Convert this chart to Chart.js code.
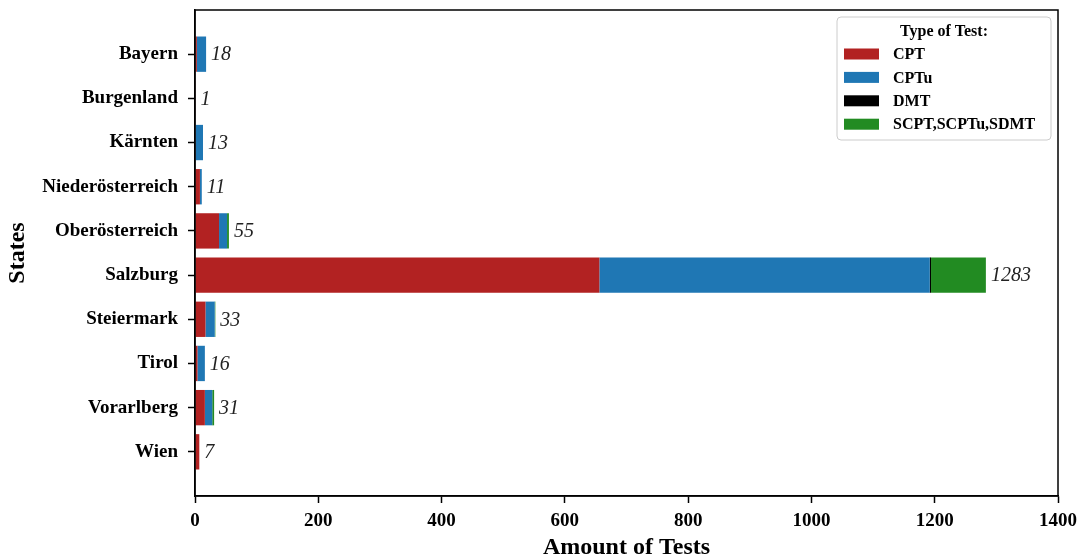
<!DOCTYPE html>
<html>
<head>
<meta charset="utf-8">
<title>Tests per State</title>
<script src="https://cdn.jsdelivr.net/npm/chart.js@4/dist/chart.umd.min.js"></script>
<style>
    body { margin: 0; background: #fff; overflow: hidden; }
    canvas { display: block; }
</style>
</head>
<body>
<canvas id="grafica" width="1083" height="560"></canvas>
<script>
// states, top to bottom
const estados = ['Bayern', 'Burgenland', 'Kärnten', 'Niederösterreich', 'Oberösterreich',
                 'Salzburg', 'Steiermark', 'Tirol', 'Vorarlberg', 'Wien'];

// amount of tests per type
const cpt  = [3, 1, 1, 8, 39, 656, 17, 4, 16, 7];
const cptu = [15, 0, 12, 3, 13, 536, 15, 12, 12, 0];
const dmt  = [0, 0, 0, 0, 0, 2, 0, 0, 0, 0];
const scpt = [0, 0, 0, 0, 3, 89, 1, 0, 3, 0];

const ticksX = [0, 200, 400, 600, 800, 1000, 1200, 1400];

const serif = "'Liberation Serif', 'Times New Roman', serif";

function puntos(valores) {
    return valores.map((v, i) => ({ x: v, y: i }));
}

// total written at the end of each bar
const totales = {
    id: 'totales',
    afterDatasetsDraw(chart) {
        const c = chart.ctx;
        const sx = chart.scales.x, sy = chart.scales.y;
        c.save();
        c.font = 'italic 20px ' + serif;
        c.fillStyle = '#222';
        c.textBaseline = 'middle';
        c.textAlign = 'left';
        estados.forEach((e, i) => {
            const total = cpt[i] + cptu[i] + dmt[i] + scpt[i];
            c.fillText(String(total), sx.getPixelForValue(total) + 5, sy.getPixelForValue(i) + 1);
        });
        c.restore();
    }
};

// frame around the plot + legend box
const marco = {
    id: 'marco',
    afterDraw(chart) {
        const c = chart.ctx;
        const a = chart.chartArea;
        c.save();
        c.strokeStyle = '#000';
        c.lineWidth = 1.5;
        c.strokeRect(a.left, a.top, a.right - a.left, a.bottom - a.top);

        // legend
        const w = 214, h = 123;
        const x0 = a.right - 7 - w, y0 = a.top + 7;
        c.beginPath();
        c.roundRect(x0, y0, w, h, 4);
        c.fillStyle = 'rgba(255,255,255,0.85)';
        c.fill();
        c.strokeStyle = '#cccccc';
        c.lineWidth = 1;
        c.stroke();

        c.fillStyle = '#000';
        c.textBaseline = 'middle';
        c.textAlign = 'center';
        c.font = 'bold 16px ' + serif;
        c.fillText('Type of Test:', x0 + w / 2, y0 + 15);

        c.textAlign = 'left';
        chart.data.datasets.forEach((ds, k) => {
            const yy = y0 + 37 + k * 23.4;
            c.fillStyle = ds.backgroundColor;
            c.fillRect(x0 + 7, yy - 5.5, 35, 11);
            c.fillStyle = '#000';
            c.fillText(ds.label, x0 + 56, yy + 1);
        });
        c.restore();
    }
};

var ctx = document.getElementById('grafica').getContext('2d');
window.grafica = new Chart(ctx, {
    type: 'bar',
    data: {
        datasets: [
            { label: 'CPT', data: puntos(cpt), backgroundColor: '#b22222' },
            { label: 'CPTu', data: puntos(cptu), backgroundColor: '#1f77b4' },
            { label: 'DMT', data: puntos(dmt), backgroundColor: '#000000' },
            { label: 'SCPT,SCPTu,SDMT', data: puntos(scpt), backgroundColor: '#228b22' }
        ]
    },
    options: {
        responsive: false,
        animation: false,
        devicePixelRatio: 1,
        indexAxis: 'y',
        layout: { padding: { top: 10, right: 25, left: 0, bottom: 0 } },
        datasets: { bar: { barPercentage: 0.8, categoryPercentage: 1, borderWidth: 0 } },
        plugins: {
            legend: { display: false },
            tooltip: { enabled: false }
        },
        scales: {
            x: {
                type: 'linear',
                stacked: true,
                min: 0,
                max: 1400,
                afterBuildTicks(s) { s.ticks = ticksX.map(v => ({ value: v })); },
                afterFit(s) { s.height = 64; s.paddingLeft = 0; s.paddingRight = 0; },
                grid: { drawOnChartArea: false, offset: false, tickLength: 7, tickColor: '#000', tickWidth: 1.5 },
                border: { color: '#000', width: 1.5 },
                ticks: {
                    color: '#000',
                    padding: 7,
                    maxRotation: 0,
                    font: { family: serif, weight: 'bold', size: 19 },
                    callback: v => String(v)
                },
                title: {
                    display: true,
                    text: 'Amount of Tests',
                    color: '#000',
                    font: { family: serif, weight: 'bold', size: 24, lineHeight: 1 },
                    padding: { top: 0, bottom: 0 }
                }
            },
            y: {
                type: 'linear',
                stacked: true,
                reverse: true,
                offset: false,
                min: -1,
                max: 10,
                afterBuildTicks(s) { s.ticks = estados.map((e, i) => ({ value: i })); },
                afterFit(s) { s.width = 195; s.paddingTop = 0; s.paddingBottom = 0; },
                grid: { drawOnChartArea: false, offset: false, tickLength: 7, tickColor: '#000', tickWidth: 1.5 },
                border: { color: '#000', width: 1.5 },
                ticks: {
                    color: '#000',
                    padding: 10,
                    font: { family: serif, weight: 'bold', size: 19 },
                    callback: v => estados[v]
                },
                title: {
                    display: true,
                    text: 'States',
                    color: '#000',
                    font: { family: serif, weight: 'bold', size: 24, lineHeight: 1 },
                    padding: { top: 6, bottom: 0 }
                }
            }
        }
    },
    plugins: [totales, marco]
});
</script>
</body>
</html>
